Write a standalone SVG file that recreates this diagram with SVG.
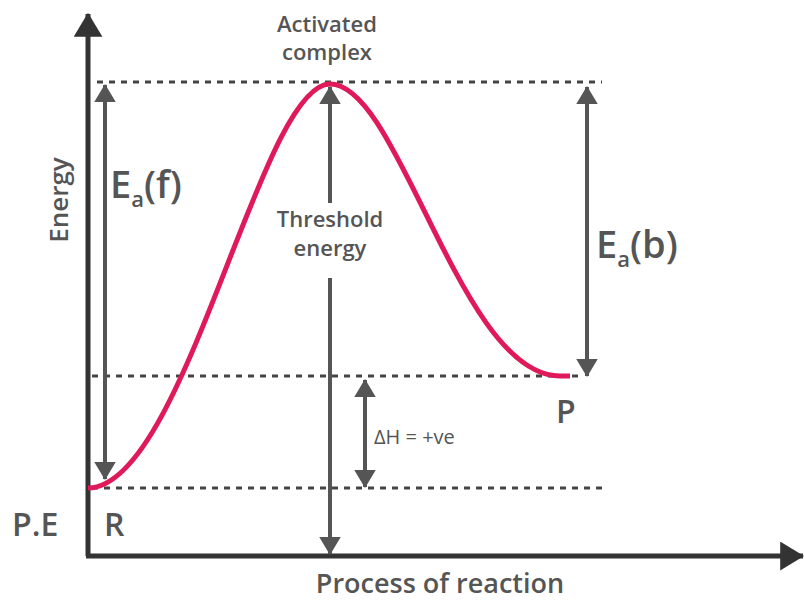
<svg xmlns="http://www.w3.org/2000/svg" width="804" height="603" viewBox="0 0 804 603">
<defs>
<marker id="ah" viewBox="0 0 10 12" refX="9.5" refY="6" markerWidth="4.5" markerHeight="5.4" orient="auto-start-reverse" markerUnits="strokeWidth">
<path d="M0,0 L10,6 L0,12 z" fill="#555"/>
</marker>
<marker id="ax" viewBox="0 0 10 12" refX="9.5" refY="6" markerWidth="4.8" markerHeight="5.8" orient="auto" markerUnits="strokeWidth">
<path d="M0,0 L10,6 L0,12 z" fill="#333"/>
</marker>
</defs>
<style>
text{font-family:"Open Sans","Liberation Sans",sans-serif;fill:#555;font-weight:600}
text.thin{font-weight:400}
.dash{stroke:#444;stroke-width:3;stroke-dasharray:6 6;fill:none}
.dim{stroke:#555;stroke-width:4;fill:none}
.axis{stroke:#333;stroke-width:5;fill:none}
</style>
<rect width="804" height="603" fill="#fff"/>
<g id="guides">
<line class="dash" x1="97" y1="82" x2="602" y2="82"/>
<line class="dash" x1="92" y1="376" x2="580" y2="376"/>
<line class="dash" x1="92" y1="488" x2="602" y2="488"/>
</g>
<g id="axes">
<line class="axis" x1="88" y1="556" x2="88" y2="14" marker-end="url(#ax)"/>
<line class="axis" x1="86" y1="556" x2="803" y2="556" marker-end="url(#ax)"/>
</g>
<g id="curve">
<path d="M88,488 C185,487 260,84 330,84 C400,84 460,376 560,376 L570,376" stroke="#e0195a" stroke-width="5" fill="none"/>
</g>
<g id="connectors">
<line class="dim" x1="105" y1="85" x2="105" y2="479" marker-start="url(#ah)" marker-end="url(#ah)"/>
<line class="dim" x1="330" y1="87" x2="330" y2="203" marker-start="url(#ah)"/>
<line class="dim" x1="330" y1="278" x2="330" y2="554" marker-end="url(#ah)"/>
<line class="dim" x1="587" y1="87" x2="587" y2="376" marker-start="url(#ah)" marker-end="url(#ah)"/>
<line class="dim" x1="365" y1="380" x2="365" y2="487" marker-start="url(#ah)" marker-end="url(#ah)"/>
</g>
<g id="labels">
<text x="327" y="32" font-size="22" text-anchor="middle">Activated</text>
<text x="327" y="60" font-size="22" text-anchor="middle">complex</text>
<text x="330" y="227" font-size="22" text-anchor="middle">Threshold</text>
<text x="330" y="256" font-size="22" text-anchor="middle">energy</text>
<text transform="translate(68,200) rotate(-90)" font-size="26" text-anchor="middle">Energy</text>
<text x="110" y="198" font-size="38">E<tspan font-size="22" dy="9">a</tspan><tspan dy="-9">(f)</tspan></text>
<text x="596" y="258" font-size="38">E<tspan font-size="22" dy="9">a</tspan><tspan dy="-9">(b)</tspan></text>
<text class="thin" x="374" y="444" font-size="20">ΔH = +ve</text>
<text x="556" y="423" font-size="32">P</text>
<text x="12" y="536" font-size="32">P.E</text>
<text x="104" y="536" font-size="32">R</text>
<text x="440" y="593" font-size="27" text-anchor="middle">Process of reaction</text>
</g>
</svg>
